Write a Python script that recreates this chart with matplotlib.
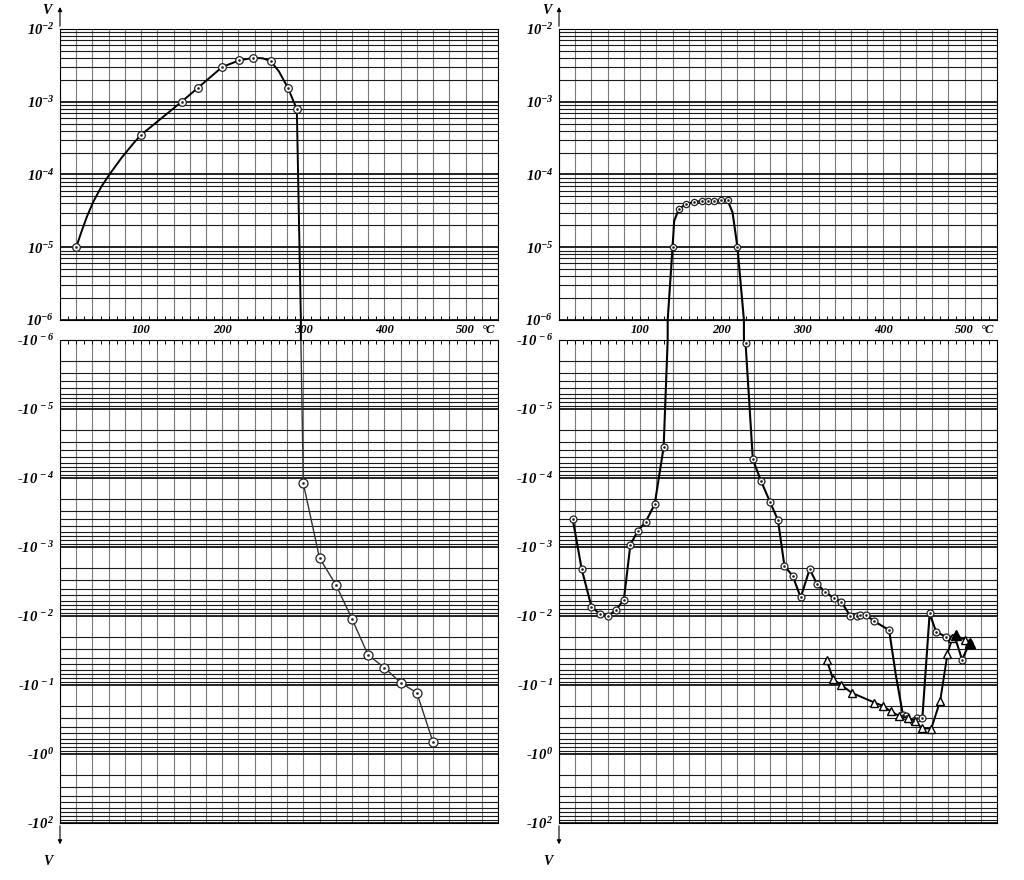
import numpy as np
import matplotlib
matplotlib.use('Agg')
import matplotlib.pyplot as plt
from matplotlib.ticker import MultipleLocator, LogLocator, NullFormatter, FuncFormatter
from matplotlib.patches import ConnectionPatch
from matplotlib.transforms import blended_transform_factory

plt.rcParams['font.family'] = 'Liberation Serif'
plt.rcParams['font.style'] = 'italic'
plt.rcParams['font.weight'] = 'bold'
plt.rcParams['mathtext.fontset'] = 'custom'
plt.rcParams['mathtext.rm'] = 'Liberation Serif:italic:bold'
plt.rcParams['mathtext.it'] = 'Liberation Serif:italic:bold'
plt.rcParams['mathtext.bf'] = 'Liberation Serif:italic:bold'

# Sol panel: pozitif dal (cizgi yolu + isaretli noktalar)
l_pos_T = [20, 27, 33, 41, 51, 61, 76, 92, 100, 150, 170, 200, 221, 238, 250, 260, 270, 281, 292]
l_pos_V = [1.0e-5, 1.7e-5, 2.6e-5, 4.2e-5, 6.8e-5, 1.0e-4, 1.7e-4, 2.8e-4, 3.5e-4, 1.0e-3,
           1.55e-3, 3.0e-3, 3.7e-3, 4.0e-3, 3.95e-3, 3.6e-3, 2.6e-3, 1.55e-3, 7.9e-4]
l_pos_marks = [0, 8, 9, 10, 11, 12, 13, 15, 17, 18]

# Sol panel: negatif dal
l_neg_T = [300, 320, 340, 360, 380, 400, 420, 440, 460]
l_neg_V = [-1.2e-4, -1.45e-3, -3.5e-3, -1.1e-2, -3.7e-2, -5.6e-2, -9.3e-2, -0.13, -0.68]
l_cross_T = 297

# Sag panel: pozitif dal
r_pos_T = [140, 142, 148, 157, 167, 176, 184, 191, 200, 208, 214, 220]
r_pos_V = [1.0e-5, 2.3e-5, 3.4e-5, 3.9e-5, 4.2e-5, 4.3e-5, 4.3e-5, 4.3e-5, 4.4e-5, 4.4e-5, 3.0e-5, 1.0e-5]
r_pos_marks = [0, 2, 3, 4, 5, 6, 7, 8, 9, 11]
r_cross1_T = 134
r_cross2_T = 228

# Sag panel: negatif dal 1 (daireler)
r_neg1_T = [17, 28, 40, 50, 60, 70, 80, 88, 97, 107, 118, 129]
r_neg1_V = [-4.0e-4, -2.1e-3, -7.3e-3, -9.3e-3, -1.0e-2, -8.3e-3, -5.8e-3, -9.3e-4, -5.9e-4,
            -4.3e-4, -2.4e-4, -3.6e-5]

# Sag panel: negatif dal 2 (daireler)
r_neg2_T = [230, 239, 249, 260, 270, 278, 288, 298, 309, 318, 328, 339, 348, 359, 367, 371, 379,
            389, 407, 415, 424, 428, 436, 441, 448, 457, 465, 477, 488, 497, 506]
r_neg2_V = [-1.1e-6, -5.4e-5, -1.1e-4, -2.2e-4, -4.1e-4, -1.9e-3, -2.6e-3, -5.4e-3, -2.1e-3,
            -3.4e-3, -4.5e-3, -5.5e-3, -6.2e-3, -1.0e-2, -1.0e-2, -9.8e-3, -9.8e-3, -1.2e-2,
            -1.6e-2, -6.8e-2, -0.27, -0.28, -0.33, -0.30, -0.30, -9.2e-3, -1.7e-2, -2.0e-2,
            -2.0e-2, -4.3e-2, -2.5e-2]
r_neg2_marks = [i for i in range(len(r_neg2_T)) if i != 19]

# Sag panel: ucgenler
tri_T = [330, 338, 348, 361, 389, 399, 409, 419, 430, 439, 447, 459, 470, 479, 485, 489, 500, 507]
tri_V = [-4.3e-2, -8.3e-2, -0.10, -0.13, -0.18, -0.20, -0.24, -0.28, -0.30, -0.33, -0.42, -0.43,
         -0.17, -3.5e-2, -2.1e-2, -1.9e-2, -2.2e-2, -2.5e-2]
tri_filled = [15, 17]

top_ticks = [1e-6, 1e-5, 1e-4, 1e-3, 1e-2]
top_labels = ['10$^{-6}$', '10$^{-5}$', '10$^{-4}$', '10$^{-3}$', '10$^{-2}$']
bot_ticks = [1e-6, 1e-5, 1e-4, 1e-3, 1e-2, 1e-1, 1e0, 1e1]
bot_labels = ['-10$^{\\,-6}$', '-10$^{\\,-5}$', '-10$^{\\,-4}$', '-10$^{\\,-3}$', '-10$^{\\,-2}$',
              '-10$^{\\,-1}$', '-10$^{\\,0}$', '-10$^{\\,2}$']

T_MAX = 540
TOP_LIM = (1e-6, 1e-2)
BOT_LIM = (1e-6, 1e1)

fig = plt.figure(figsize=(10.24, 8.8), dpi=100)


def setup(ax, ticks, labels):
    ax.set_xlim(0, T_MAX)
    ax.set_yscale('log')
    ax.set_yticks(ticks, labels)
    ax.yaxis.set_minor_locator(LogLocator(base=10, subs=np.arange(2, 10), numticks=100))
    ax.yaxis.set_minor_formatter(NullFormatter())
    ax.xaxis.set_major_locator(MultipleLocator(20))
    ax.xaxis.set_minor_locator(MultipleLocator(10))
    ax.tick_params(axis='y', which='both', length=0, labelsize=10.5, pad=4)
    ax.grid(True, which='major', axis='y', color='#111111', lw=1.3)
    ax.grid(True, which='minor', axis='y', color='#1a1a1a', lw=0.8)
    ax.grid(True, which='major', axis='x', color='#7a7a7a', lw=0.8)
    ax.set_axisbelow(True)
    for s in ax.spines.values():
        s.set_linewidth(0.8)


def make_panel(x0, label_x):
    ax_t = fig.add_axes([x0, 0.6364, 0.4277, 0.3307])
    ax_b = fig.add_axes([x0, 0.0648, 0.4277, 0.5489])
    setup(ax_t, top_ticks, top_labels)
    setup(ax_b, bot_ticks, bot_labels)
    ax_t.set_ylim(*TOP_LIM)
    ax_b.set_ylim(BOT_LIM[1], BOT_LIM[0])
    ax_t.tick_params(axis='x', which='both', direction='in', length=3, width=0.7,
                     bottom=True, top=False, labelsize=9, pad=3)
    ax_t.xaxis.set_major_formatter(FuncFormatter(
        lambda v, p: f'{v:.0f}' if v % 100 == 0 and 0 < v < T_MAX else ''))
    ax_b.tick_params(axis='x', which='both', direction='in', length=3, width=0.7,
                     bottom=False, top=True, labelbottom=False)
    tr = blended_transform_factory(ax_t.transData, ax_t.transAxes)
    ax_t.text(528, -0.034, '°C', transform=tr, ha='center', va='center', fontsize=9)
    ax_t.annotate('', xy=(0, 1.085), xytext=(0, 1.0), xycoords='axes fraction',
                  arrowprops=dict(arrowstyle='-|>', lw=0.8, color='k', mutation_scale=6))
    ax_b.annotate('', xy=(0, -0.05), xytext=(0, 0.0), xycoords='axes fraction',
                  arrowprops=dict(arrowstyle='-|>', lw=0.8, color='k', mutation_scale=6))
    fig.text(label_x, 0.988, 'V', fontsize=10, ha='center', va='center')
    fig.text(label_x + 0.001, 0.021, 'V', fontsize=10, ha='center', va='center')
    return ax_t, ax_b


def circles(ax, T, V, marks, ms=5.5, lw=1.3, color='k'):
    ax.plot(T, V, color=color, lw=lw, marker='o', ms=ms, mfc='white', mec='#222222',
            mew=0.9, markevery=marks, zorder=3)
    ax.plot([T[i] for i in marks], [V[i] for i in marks], ls='none', marker='.',
            ms=1.8, color='#222222', zorder=4)


def bridge(ax_t, ax_b, t_top, t_bot, lw):
    con = ConnectionPatch(xyA=(t_top, TOP_LIM[0]), coordsA='data', axesA=ax_t,
                          xyB=(t_bot, BOT_LIM[0]), coordsB='data', axesB=ax_b,
                          color='k', lw=lw)
    fig.add_artist(con)


# Sol panel
axL_t, axL_b = make_panel(60 / 1024, 47 / 1024)
circles(axL_t, l_pos_T + [l_cross_T], l_pos_V + [TOP_LIM[0]], l_pos_marks, lw=1.4)
neg = [-v for v in l_neg_V]
circles(axL_b, [l_cross_T] + l_neg_T, [BOT_LIM[0]] + neg,
        list(range(1, len(l_neg_T) + 1)), ms=6.5, lw=1.0, color='#333333')
bridge(axL_t, axL_b, l_cross_T, l_cross_T, 1.4)

# Sag panel
axR_t, axR_b = make_panel(559 / 1024, 547 / 1024)
circles(axR_t, [r_cross1_T] + r_pos_T + [r_cross2_T], [TOP_LIM[0]] + r_pos_V + [TOP_LIM[0]],
        [i + 1 for i in r_pos_marks], ms=4.5, lw=1.5)
neg1 = [-v for v in r_neg1_V]
circles(axR_b, r_neg1_T + [r_cross1_T], neg1 + [BOT_LIM[0]], list(range(len(r_neg1_T))),
        ms=5, lw=1.5)
neg2 = [-v for v in r_neg2_V]
circles(axR_b, [r_cross2_T] + r_neg2_T, [BOT_LIM[0]] + neg2, [i + 1 for i in r_neg2_marks],
        ms=5, lw=1.5)
bridge(axR_t, axR_b, r_cross1_T, r_cross1_T, 1.5)
bridge(axR_t, axR_b, r_cross2_T, r_cross2_T, 1.5)

tri_abs = [-v for v in tri_V]
axR_b.plot(tri_T, tri_abs, color='k', lw=1.4, marker='^', ms=6, mfc='white', mec='k',
           mew=1.0, zorder=3)
axR_b.plot([tri_T[i] for i in tri_filled], [tri_abs[i] for i in tri_filled], ls='none',
           marker='^', ms=6.5, color='k', zorder=4)

fig.savefig('out.png', dpi=100, facecolor='white')
